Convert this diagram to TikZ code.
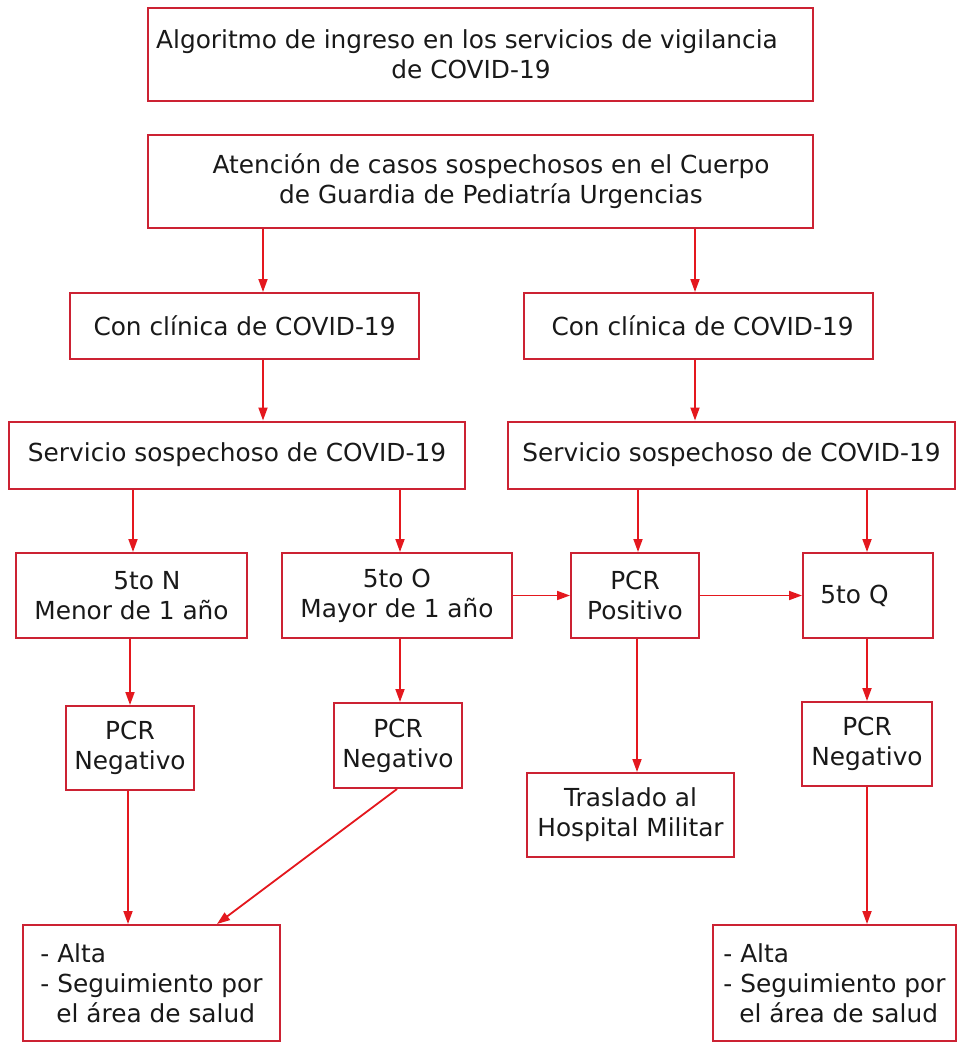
\documentclass[tikz,border=0pt]{standalone}
\usepackage{fontspec}
\setmainfont{DejaVu Sans}
\usetikzlibrary{arrows.meta}
\definecolor{boxred}{RGB}{204,34,51}
\definecolor{linered}{RGB}{228,24,30}
\definecolor{ink}{RGB}{25,25,25}
\tikzset{
  box/.style={draw=boxred, line width=2pt, inner sep=0pt, align=center,
    text=ink, font=\fontsize{24.8}{30}\selectfont},
  arr/.style={draw=linered, line width=1.8pt, -{Triangle[length=13pt,width=9pt]}}
}
\begin{document}
\begin{tikzpicture}[x=1pt,y=-1pt]
\useasboundingbox[fill=white] (0,0) rectangle (957,1043);
% row 1-2
\node[box, minimum width=665, minimum height=93] (t1) at (480.5,54.5)
  {Algoritmo de ingreso en los servicios de vigilancia\hspace*{27pt}\\de COVID-19\hspace*{19pt}};
\node[box, minimum width=665, minimum height=93] (t2) at (480.5,181.5)
  {\hspace*{21pt}Atención de casos sospechosos en el Cuerpo\\\hspace*{21pt}de Guardia de Pediatría Urgencias};
% row 3
\node[box, minimum width=349, minimum height=66] (c1) at (244.5,326) {Con clínica de COVID-19};
\node[box, minimum width=349, minimum height=66] (c2) at (698.5,326) {\hspace*{8pt}Con clínica de COVID-19};
% row 4
\node[box, minimum width=456, minimum height=67] (s1) at (237,455) {Servicio sospechoso de COVID-19};
\node[box, minimum width=447, minimum height=67] (s2) at (731.5,455) {Servicio sospechoso de COVID-19};
% row 5
\node[box, minimum width=231, minimum height=85] (n1) at (131.5,595.5) {\hspace*{31pt}5to N\\Menor de 1 año};
\node[box, minimum width=230, minimum height=85] (n2) at (397,595.5) {5to O\\Mayor de 1 año};
\node[box, minimum width=128, minimum height=85] (p1) at (635,595.5) {PCR\\Positivo};
\node[box, minimum width=130, minimum height=85] (q1) at (868,595.5) {5to Q\hspace*{27pt}};
% row 6
\node[box, minimum width=128, minimum height=84] (g1) at (130,748) {PCR\\Negativo};
\node[box, minimum width=128, minimum height=85] (g2) at (398,745.5) {PCR\\Negativo};
\node[box, minimum width=130, minimum height=84] (g3) at (867,744) {PCR\\Negativo};
\node[box, minimum width=207, minimum height=84] (tr) at (630.5,815) {Traslado al\\Hospital Militar};
% row 7
\node[box, align=left, minimum width=257, minimum height=116] (a1) at (151.5,983)
  {- Alta\\- Seguimiento por\\\hspace*{16pt}el área de salud};
\node[box, align=left, minimum width=243, minimum height=116] (a2) at (834.5,983)
  {- Alta\\- Seguimiento por\\\hspace*{16pt}el área de salud};
% connectors
\draw[arr] (t2.south -| 263,0) -- (c1.north -| 263,0);
\draw[arr] (t2.south -| 695,0) -- (c2.north -| 695,0);
\draw[arr] (c1.south -| 263,0) -- (s1.north -| 263,0);
\draw[arr] (c2.south -| 695,0) -- (s2.north -| 695,0);
\draw[arr] (s1.south -| 133,0) -- (n1.north -| 133,0);
\draw[arr] (s1.south -| 400,0) -- (n2.north -| 400,0);
\draw[arr] (s2.south -| 638,0) -- (p1.north -| 638,0);
\draw[arr] (s2.south -| 867,0) -- (q1.north -| 867,0);
\draw[arr] (n2.east) -- (p1.west);
\draw[arr] (p1.east) -- (q1.west);
\draw[arr] (n1.south -| 130,0) -- (g1.north -| 130,0);
\draw[arr] (n2.south -| 400,0) -- (g2.north -| 400,0);
\draw[arr] (p1.south -| 637,0) -- (tr.north -| 637,0);
\draw[arr] (q1.south -| 867,0) -- (g3.north -| 867,0);
\draw[arr] (g1.south -| 128,0) -- (a1.north -| 128,0);
\draw[arr] (g2.south -| 397,0) -- (a1.north -| 217,0);
\draw[arr] (g3.south -| 867,0) -- (a2.north -| 867,0);
\end{tikzpicture}
\end{document}
